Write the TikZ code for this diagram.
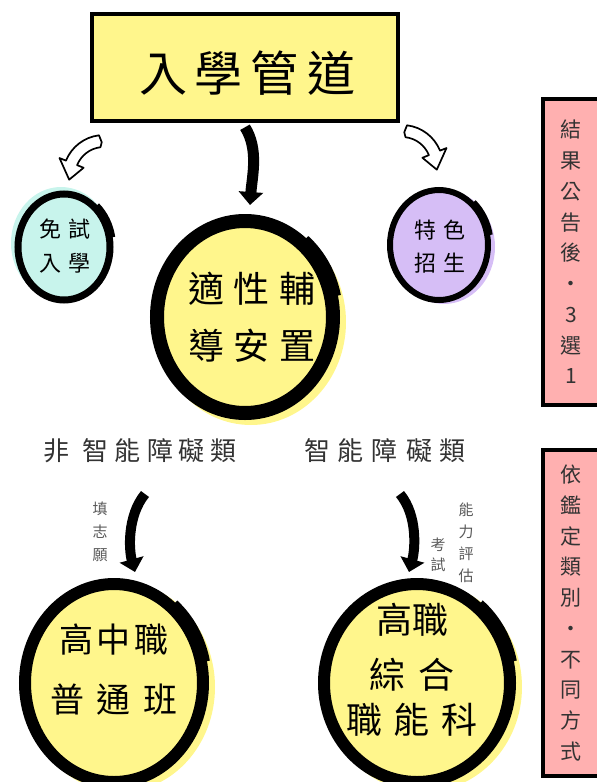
\documentclass[tikz,border=0pt]{standalone}
\usepackage{fontspec}
\setmainfont{Noto Sans CJK TC}
\usetikzlibrary{shapes.geometric,arrows.meta,calc}
\definecolor{ylw}{RGB}{255,246,140}
\definecolor{cyn}{RGB}{200,244,236}
\definecolor{lav}{RGB}{214,190,246}
\definecolor{pnk}{RGB}{255,176,176}
\begin{document}
\begin{tikzpicture}[x=1pt,y=1pt,
  ring/.style={ellipse, draw=black, inner sep=0pt},
  txt/.style={inner sep=0pt, align=center, text=black},
  bigarrow/.style={line width=10pt, -{Triangle[length=13pt,width=24pt]}},
  hollow/.style={draw=black, line width=1.7pt, fill=white, line join=round},
  note/.style={draw=black, line width=3.5pt, fill=pnk, inner sep=0pt, align=center, text=black!80, font={\fontsize{21}{30.75}\selectfont}},
  cat/.style={inner sep=0pt, text=black!80, font={\fontsize{26}{30}\selectfont}},
  side/.style={inner sep=0pt, align=center, text=black!65, font={\fontsize{15}{22}\selectfont}}]
\useasboundingbox (0,0) rectangle (597,-782);

% title box
\node[draw=black, line width=4.5pt, fill=ylw, minimum width=306pt, minimum height=107pt, inner sep=0pt] (title) at (245,-67.5) {};
\node[txt, font={\fontsize{48}{50}\selectfont}] (titletxt) at (247,-73) {入\hspace{8pt}學\hspace{8pt}管\hspace{8pt}道};

% offset fills
\fill[cyn] (61,-243) ellipse [x radius=50pt, y radius=56pt];
\fill[lav] (444,-247) ellipse [x radius=51pt, y radius=57pt];
\fill[ylw] (251,-322) ellipse [x radius=95pt, y radius=103pt];
\fill[ylw] (120,-687) ellipse [x radius=95pt, y radius=105pt];
\fill[ylw] (423,-687) ellipse [x radius=99pt, y radius=105pt];

% rings
\node[ring, line width=7pt, fill=cyn, minimum width=92pt, minimum height=106pt] (mian) at (64,-247) {};
\node[ring, line width=14pt, fill=ylw, minimum width=176pt, minimum height=192pt] (mid) at (245,-317) {};
\node[ring, line width=6pt, fill=lav, minimum width=98pt, minimum height=110pt] (tese) at (439,-245) {};
\node[ring, line width=12pt, fill=ylw, minimum width=178pt, minimum height=198pt] (hsL) at (114,-683) {};
\node[ring, line width=12pt, fill=ylw, minimum width=186pt, minimum height=198pt] (hsR) at (417,-683) {};

% brush-stroke overlaps on the rings
\draw[line width=6pt] ($(mian.center)+(10:49pt and 56pt)$) arc[start angle=10,end angle=48,x radius=49pt,y radius=56pt];
\draw[line width=12pt] ($(mid.center)+(12:92pt and 100pt)$) arc[start angle=12,end angle=50,x radius=92pt,y radius=100pt];
\draw[line width=5pt] ($(tese.center)+(10:52pt and 58pt)$) arc[start angle=10,end angle=48,x radius=52pt,y radius=58pt];
\draw[line width=10pt] ($(hsL.center)+(12:93pt and 103pt)$) arc[start angle=12,end angle=50,x radius=93pt,y radius=103pt];
\draw[line width=10pt] ($(hsR.center)+(12:97pt and 103pt)$) arc[start angle=12,end angle=50,x radius=97pt,y radius=103pt];

% texts in rings
\node[txt, font={\fontsize{22}{34}\selectfont}] (mianT) at (65,-246) {免\hspace{8pt}試\\入\hspace{8pt}學};
\node[txt, font={\fontsize{36}{57}\selectfont}] (midT) at (252,-317) {適\hspace{10pt}性\hspace{10pt}輔\\導\hspace{10pt}安\hspace{10pt}置};
\node[txt, font={\fontsize{22}{33}\selectfont}] (teseT) at (440,-247) {特\hspace{7pt}色\\招\hspace{7pt}生};
\node[txt, font={\fontsize{34}{60}\selectfont}] (hsLT) at (114,-670) {高\hspace{4pt}中\hspace{4pt}職\\普\hspace{13pt}通\hspace{13pt}班};
\node[txt, font={\fontsize{36}{45}\selectfont}] (hsRT) at (412,-670) {高職\\[10pt]綜\hspace{14pt}合\\職\hspace{12pt}能\hspace{12pt}科};

% category labels
\node[cat] (lblL) at (140,-451) {非\hspace{14pt}智\hspace{6pt}能\hspace{6pt}障\hspace{6pt}礙\hspace{6pt}類};
\node[cat] (lblR) at (385,-451) {智\hspace{8pt}能\hspace{8pt}障\hspace{8pt}礙\hspace{8pt}類};

% side labels
\node[side, font={\fontsize{15}{23}\selectfont}] (tzy) at (100,-532) {填\\志\\願};
\node[side] (nlpg) at (466,-543) {能\\力\\評\\估};
\node[side, font={\fontsize{15}{20}\selectfont}] (ks) at (438,-555) {考\\試};

% pink notes
\node[note, minimum width=56pt, minimum height=306pt] (res) at (571,-252) {結\\果\\公\\告\\後\\•\\3\\選\\1};
\node[note, minimum width=56pt, minimum height=326pt] (way) at (571,-613) {依\\鑑\\定\\類\\別\\•\\不\\同\\方\\式};

% black arrows
\draw[bigarrow, line width=11pt] ([yshift=-4pt]title.south) .. controls +(14,-22) and +(2,28) .. ([shift={(5,9)}]mid.north);
\draw[bigarrow] ([shift={(5,-43)}]lblL.center) .. controls +(-18,-22) and +(-6,22) .. ([shift={(21,6)}]hsL.north);
\draw[bigarrow] ([shift={(15,-43)}]lblR.center) .. controls +(18,-22) and +(6,22) .. ([shift={(-8,6)}]hsR.north);

% hollow arrows
\coordinate (cl) at (104,-176);
\draw[hollow] ($(cl)+(97:41pt)$) arc[start angle=97,end angle=158,radius=41pt] -- ($(cl)+(158:48pt)$) -- ($(cl)+(186:35pt)$) -- ($(cl)+(158:22pt)$) -- ($(cl)+(158:29pt)$) arc[start angle=158,end angle=97,radius=29pt] -- ($(cl)+(97:35pt)+(2,-1)$) -- cycle;
\coordinate (cr) at (402,-166);
\draw[hollow] ($(cr)+(83:41pt)$) arc[start angle=83,end angle=22,radius=41pt] -- ($(cr)+(22:48pt)$) -- ($(cr)+(-6:35pt)$) -- ($(cr)+(22:22pt)$) -- ($(cr)+(22:29pt)$) arc[start angle=22,end angle=83,radius=29pt] -- ($(cr)+(83:35pt)+(-2,-1)$) -- cycle;
\end{tikzpicture}
\end{document}
